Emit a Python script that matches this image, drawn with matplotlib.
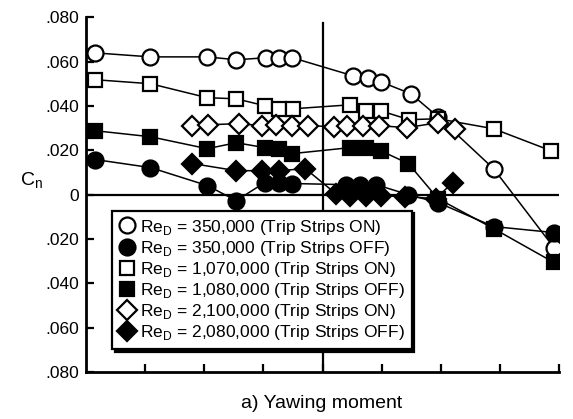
import matplotlib.pyplot as plt

plt.rcParams['font.family'] = ['Liberation Sans', 'DejaVu Sans']

# Values (x = yaw position, y = Cn)
x_on_350 = [-3.84, -2.91, -1.95, -1.46, -0.96, -0.74, -0.51, 0.51, 0.76, 0.98, 1.49, 1.95, 2.89, 3.91]
cn_on_350 = [.0639, .0621, .0621, .0608, .0617, .0617, .0617, .0536, .0527, .0509, .0455, .0351, .0117, -.0239]

x_off_350 = [-3.84, -2.91, -1.95, -1.46, -0.98, -0.74, -0.51, 0.39, 0.64, 0.90, 1.45, 1.95, 2.89, 3.91]
cn_off_350 = [.0158, .0122, .0041, -.0027, .0054, .0054, .0050, .0045, .0045, .0045, .0000, -.0036, -.0144, -.0171]

x_on_1070 = [-3.84, -2.91, -1.95, -1.46, -0.98, -0.73, -0.50, 0.47, 0.73, 0.98, 1.46, 1.95, 2.89, 3.86]
cn_on_1070 = [.0518, .0500, .0437, .0432, .0401, .0387, .0387, .0405, .0378, .0378, .0338, .0342, .0297, .0198]

x_off_1080 = [-3.84, -2.91, -1.95, -1.46, -0.98, -0.74, -0.51, 0.47, 0.73, 0.98, 1.45, 1.95, 2.89, 3.91]
cn_off_1080 = [.0288, .0261, .0207, .0234, .0212, .0207, .0185, .0212, .0212, .0198, .0140, -.0018, -.0153, -.0306]

x_on_2100 = [-2.20, -1.93, -1.42, -1.02, -0.78, -0.52, -0.24, 0.19, 0.42, 0.69, 0.95, 1.42, 1.95, 2.23]
cn_on_2100 = [.0311, .0315, .0320, .0311, .0315, .0311, .0311, .0306, .0311, .0311, .0311, .0302, .0324, .0297]

x_off_2080 = [-2.20, -1.46, -1.02, -0.74, -0.29, 0.22, 0.47, 0.73, 0.98, 1.40, 1.91, 2.20]
cn_off_2080 = [.0140, .0108, .0108, .0108, .0117, .0005, -.0005, -.0005, -.0005, -.0009, -.0018, .0054]

labels = [
    r'Re$_\mathregular{D}$ = 350,000 (Trip Strips ON)',
    r'Re$_\mathregular{D}$ = 350,000 (Trip Strips OFF)',
    r'Re$_\mathregular{D}$ = 1,070,000 (Trip Strips ON)',
    r'Re$_\mathregular{D}$ = 1,080,000 (Trip Strips OFF)',
    r'Re$_\mathregular{D}$ = 2,100,000 (Trip Strips ON)',
    r'Re$_\mathregular{D}$ = 2,080,000 (Trip Strips OFF)',
]
y_ticks = [-.08, -.06, -.04, -.02, 0, .02, .04, .06, .08]
y_ticklabels = ['.080', '.060', '.040', '.020', '0', '.020', '.040', '.060', '.080']

fig = plt.figure(figsize=(5.73, 4.19), dpi=100)
ax = fig.add_axes([0.150, 0.112, 0.826, 0.847])

series = [
    (x_on_350, cn_on_350, 'o', 'white', 11.5),
    (x_off_350, cn_off_350, 'o', 'black', 11.5),
    (x_on_1070, cn_on_1070, 's', 'white', 10.5),
    (x_off_1080, cn_off_1080, 's', 'black', 10.5),
    (x_on_2100, cn_on_2100, 'D', 'white', 10),
    (x_off_2080, cn_off_2080, 'D', 'black', 10),
]
for (xs, ys, m, fc, ms), lab in zip(series, labels):
    ax.plot(xs, ys, color='black', lw=1.1, marker=m, ms=ms, mfc=fc,
            mec='black', mew=1.6, label=lab)

# reference lines
ax.axhline(0, color='black', lw=1.6, zorder=1)
ax.plot([0, 0], [-0.08, 0.0774], color='black', lw=1.6, zorder=1)

ax.set_xlim(-4, 4)
ax.set_ylim(-0.08, 0.08)
ax.set_xticks([-3, -2, -1, 0, 1, 2, 3, 4])
ax.set_xticklabels([])
ax.set_yticks(y_ticks)
ax.set_yticklabels(y_ticklabels, fontsize=12.5)
ax.tick_params(axis='both', direction='in', length=6, width=1.6)
ax.tick_params(axis='y', pad=5)

for s in ['top', 'right']:
    ax.spines[s].set_visible(False)
for s in ['left', 'bottom']:
    ax.spines[s].set_linewidth(2)

ax.set_ylabel(r'C$_\mathregular{n}$', rotation=0, fontsize=14)
ax.yaxis.set_label_coords(-0.115, 0.51)

leg = ax.legend(loc='upper left', bbox_to_anchor=(0.055, 0.455), fontsize=12.5,
                frameon=True, fancybox=False, edgecolor='black',
                handlelength=0.9, handletextpad=0.3, labelspacing=0.12,
                borderpad=0.4, borderaxespad=0,
                shadow={'color': 'black', 'alpha': 1})
leg.get_frame().set_linewidth(1.6)
for h in leg.legend_handles:
    h.set_linestyle('none')

fig.text(0.562, 0.036, 'a) Yawing moment', ha='center', va='center', fontsize=14)

plt.savefig('out.png', dpi=100)
